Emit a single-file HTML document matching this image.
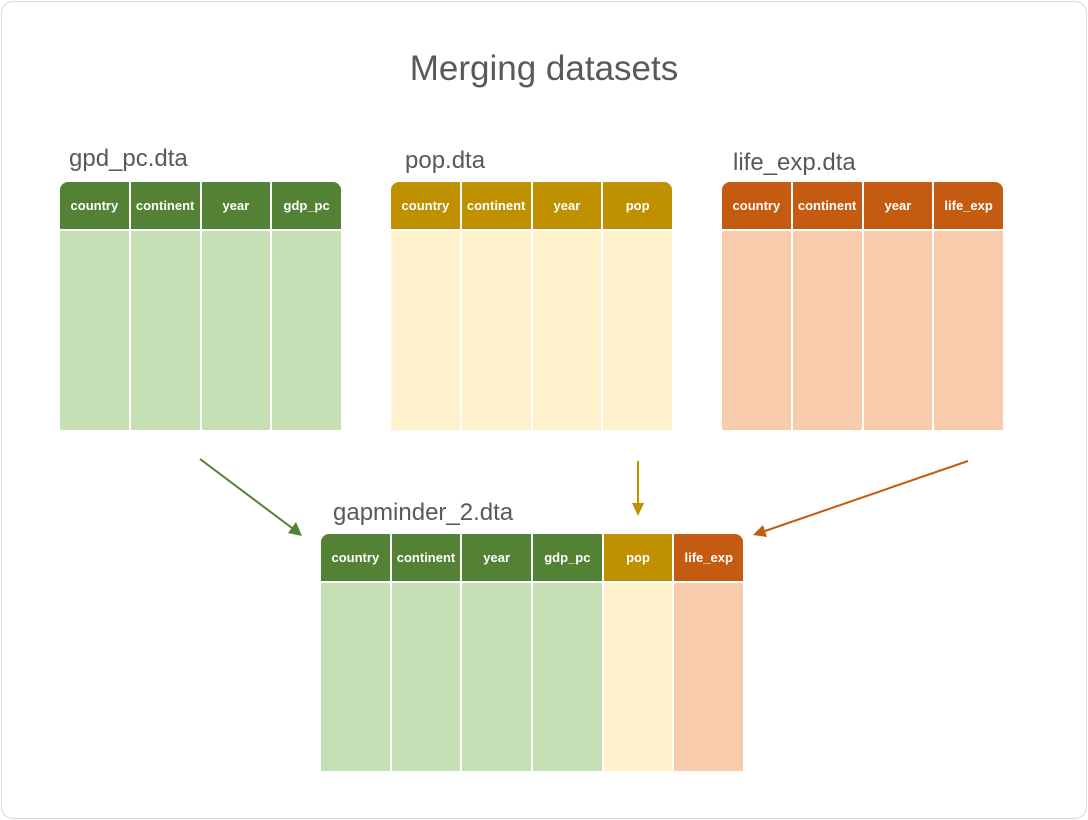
<!DOCTYPE html>
<html><head><meta charset="utf-8"><style>
*{margin:0;padding:0;box-sizing:border-box}
body{width:1088px;height:820px;background:#fff;position:relative;overflow:hidden;font-family:"Liberation Sans",sans-serif}
.frame{position:absolute;left:1px;top:1px;width:1086px;height:818px;border:1.5px solid #d9d9d9;border-radius:12px}
.t{position:absolute;color:#595959}
.tbl{position:absolute;display:flex;flex-direction:column}
.hd{display:flex;gap:2px;border-radius:8px 8px 0 0;overflow:hidden;height:47px}
.hd div{flex:1;color:#fff;font-weight:bold;font-size:13px;display:flex;align-items:center;justify-content:center}
.bd{display:flex;gap:2px;margin-top:2px}
.bd div{flex:1}
.g{background:#548235}.gb{background:#c5e0b4}
.y{background:#bf9000}.yb{background:#fff2cc}
.o{background:#c55a11}.ob{background:#f8cbad}
</style></head><body>
<div class="frame"></div>
<div class="t" style="left:0;width:1088px;top:49px;text-align:center;font-size:35px">Merging datasets</div>
<div class="t" style="left:69px;top:145px;font-size:24px">gpd_pc.dta</div>
<div class="t" style="left:405px;top:147px;font-size:24px">pop.dta</div>
<div class="t" style="left:733px;top:149px;font-size:24px">life_exp.dta</div>
<div class="t" style="left:333px;top:499px;font-size:24px">gapminder_2.dta</div>

<div class="tbl" style="left:60px;top:182px;width:281px">
<div class="hd"><div class="g">country</div><div class="g">continent</div><div class="g">year</div><div class="g">gdp_pc</div></div>
<div class="bd" style="height:199px"><div class="gb"></div><div class="gb"></div><div class="gb"></div><div class="gb"></div></div></div>

<div class="tbl" style="left:391px;top:182px;width:281px">
<div class="hd"><div class="y">country</div><div class="y">continent</div><div class="y">year</div><div class="y">pop</div></div>
<div class="bd" style="height:199px"><div class="yb"></div><div class="yb"></div><div class="yb"></div><div class="yb"></div></div></div>

<div class="tbl" style="left:722px;top:182px;width:281px">
<div class="hd"><div class="o">country</div><div class="o">continent</div><div class="o">year</div><div class="o">life_exp</div></div>
<div class="bd" style="height:199px"><div class="ob"></div><div class="ob"></div><div class="ob"></div><div class="ob"></div></div></div>

<div class="tbl" style="left:321px;top:534px;width:422px">
<div class="hd"><div class="g">country</div><div class="g">continent</div><div class="g">year</div><div class="g">gdp_pc</div><div class="y">pop</div><div class="o">life_exp</div></div>
<div class="bd" style="height:188px"><div class="gb"></div><div class="gb"></div><div class="gb"></div><div class="gb"></div><div class="yb"></div><div class="ob"></div></div></div>

<svg width="1088" height="820" style="position:absolute;left:0;top:0">
<line x1="200" y1="459" x2="292" y2="528" stroke="#548235" stroke-width="2"/>
<polygon points="302,536 288,533 296,522" fill="#548235"/>
<line x1="638" y1="461" x2="638" y2="503" stroke="#bf9000" stroke-width="2"/>
<polygon points="632,503 644,503 638,516" fill="#bf9000"/>
<line x1="968" y1="461" x2="765" y2="531" stroke="#c55a11" stroke-width="2"/>
<polygon points="753,535 763,525 767,537" fill="#c55a11"/>
</svg>
</body></html>
